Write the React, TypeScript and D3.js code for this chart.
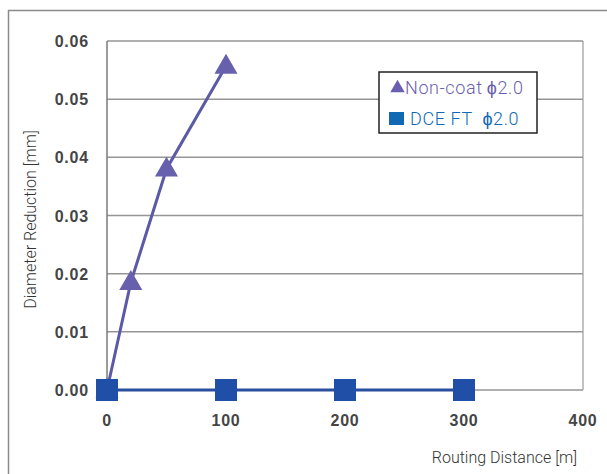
import { useEffect, useRef } from 'react';
import * as d3 from 'd3';

const nonCoatX = [0, 20, 50, 100];
const nonCoatY = [0, 0.0185, 0.038, 0.0557];
const dceX = [0, 100, 200, 300];
const dceY = [0, 0, 0, 0];
const xTicks = [0, 100, 200, 300, 400];
const yTicks = [0, 0.01, 0.02, 0.03, 0.04, 0.05, 0.06];

export default function App() {
  const svgRef = useRef<SVGSVGElement>(null);

  useEffect(() => {
    if (!svgRef.current) return;
    const svg = d3.select(svgRef.current);
    svg.selectAll('*').remove();

    const width = 607;
    const height = 474;
    const margin = { top: 41, right: 24, bottom: 84, left: 107 };

    const x = d3.scaleLinear().domain([0, 400]).range([margin.left, width - margin.right]);
    const y = d3.scaleLinear().domain([0, 0.06]).range([height - margin.bottom, margin.top]);

    // outer frame
    svg.append('path')
      .attr('d', `M8.5,${height} V10.5 H${width}`)
      .attr('fill', 'none')
      .attr('stroke', '#8a8a8a')
      .attr('stroke-width', 1.5);

    // grid
    svg.append('g')
      .selectAll('line')
      .data(yTicks)
      .enter()
      .append('line')
      .attr('x1', x(0))
      .attr('x2', x(400))
      .attr('y1', d => y(d))
      .attr('y2', d => y(d))
      .attr('stroke', '#959595')
      .attr('stroke-width', 1.5);

    svg.append('line')
      .attr('x1', x(400)).attr('x2', x(400))
      .attr('y1', y(0.06)).attr('y2', y(0))
      .attr('stroke', '#9a9a9a').attr('stroke-width', 1.2);
    svg.append('line')
      .attr('x1', x(0)).attr('x2', x(0))
      .attr('y1', y(0.06)).attr('y2', y(0))
      .attr('stroke', '#7a7a7a').attr('stroke-width', 1.5);

    // tick labels
    svg.append('g')
      .selectAll('text')
      .data(yTicks)
      .enter()
      .append('text')
      .attr('x', x(0) - 18)
      .attr('y', d => y(d) + 6)
      .attr('text-anchor', 'end')
      .attr('font-family', 'Liberation Sans, Arial, sans-serif')
      .attr('font-size', 16)
      .attr('font-weight', 'bold')
      .attr('letter-spacing', 0.8)
      .attr('fill', '#454545')
      .text(d => d3.format('.2f')(d));

    svg.append('g')
      .selectAll('text')
      .data(xTicks)
      .enter()
      .append('text')
      .attr('x', d => x(d))
      .attr('y', y(0) + 36)
      .attr('text-anchor', 'middle')
      .attr('font-family', 'Liberation Sans, Arial, sans-serif')
      .attr('font-size', 16)
      .attr('font-weight', 'bold')
      .attr('letter-spacing', 0.8)
      .attr('fill', '#454545')
      .text(d => String(d));

    // axis titles
    svg.append('text')
      .attr('transform', `translate(36, ${(y(0) + y(0.06)) / 2 + 4}) rotate(-90)`)
      .attr('text-anchor', 'middle')
      .attr('font-family', 'Roboto, Liberation Sans, sans-serif')
      .attr('font-size', 16)
      .attr('font-weight', 300)
      .attr('fill', '#333')
      .text('Diameter Reduction [mm]');

    svg.append('text')
      .attr('x', 577)
      .attr('y', 463)
      .attr('text-anchor', 'end')
      .attr('font-family', 'Roboto, Liberation Sans, sans-serif')
      .attr('font-size', 16)
      .attr('font-weight', 300)
      .attr('fill', '#333')
      .text('Routing Distance [m]');

    const line = d3.line<[number, number]>()
      .x(d => x(d[0]))
      .y(d => y(d[1]));

    const dcePts: [number, number][] = dceX.map((v, i) => [v, dceY[i]]);
    const ncPts: [number, number][] = nonCoatX.map((v, i) => [v, nonCoatY[i]]);

    svg.append('path')
      .datum(dcePts)
      .attr('d', line)
      .attr('fill', 'none')
      .attr('stroke', '#2a4f9e')
      .attr('stroke-width', 3);

    svg.append('path')
      .datum(ncPts)
      .attr('d', line)
      .attr('fill', 'none')
      .attr('stroke', '#5b5aa6')
      .attr('stroke-width', 3);

    const tri = d3.symbol().type(d3.symbolTriangle).size(230);
    svg.append('g')
      .selectAll('path')
      .data(ncPts)
      .enter()
      .append('path')
      .attr('d', tri)
      .attr('transform', d => `translate(${x(d[0])}, ${y(d[1]) + 1})`)
      .attr('fill', '#6660ad');

    svg.append('g')
      .selectAll('rect')
      .data(dcePts)
      .enter()
      .append('rect')
      .attr('x', d => x(d[0]) - 11)
      .attr('y', d => y(d[1]) - 11)
      .attr('width', 22)
      .attr('height', 22)
      .attr('fill', '#1f4fa6');

    // legend
    const lg = svg.append('g').attr('transform', 'translate(379, 72)');
    lg.append('rect')
      .attr('x', 0).attr('y', 0)
      .attr('width', 158).attr('height', 61)
      .attr('fill', '#fff')
      .attr('stroke', '#222')
      .attr('stroke-width', 1.5);
    lg.append('path')
      .attr('d', d3.symbol().type(d3.symbolTriangle).size(90)())
      .attr('transform', 'translate(18.5, 16)')
      .attr('fill', '#6a5fae');
    lg.append('text')
      .attr('x', 26).attr('y', 22)
      .attr('font-family', 'Roboto, Liberation Sans, sans-serif')
      .attr('font-size', 18)
      .attr('font-weight', 300)
      .attr('letter-spacing', 0.6)
      .attr('fill', '#6a5fae')
      .text('Non-coat\u2009\u03d52.0');
    lg.append('rect')
      .attr('x', 10).attr('y', 40)
      .attr('width', 15).attr('height', 13)
      .attr('fill', '#1169b4');
    lg.append('text')
      .attr('x', 31).attr('y', 53)
      .attr('font-family', 'Roboto, Liberation Sans, sans-serif')
      .attr('font-size', 18)
      .attr('font-weight', 300)
      .attr('letter-spacing', 0.6)
      .attr('fill', '#1169b4')
      .attr('xml:space', 'preserve')
      .text('DCE FT  \u03d52.0');
  }, []);

  return (
    <div style={{ position: 'absolute', left: 0, top: 0 }}>
      <svg ref={svgRef} width={607} height={474} style={{ display: 'block', background: '#fff' }} />
    </div>
  );
}
